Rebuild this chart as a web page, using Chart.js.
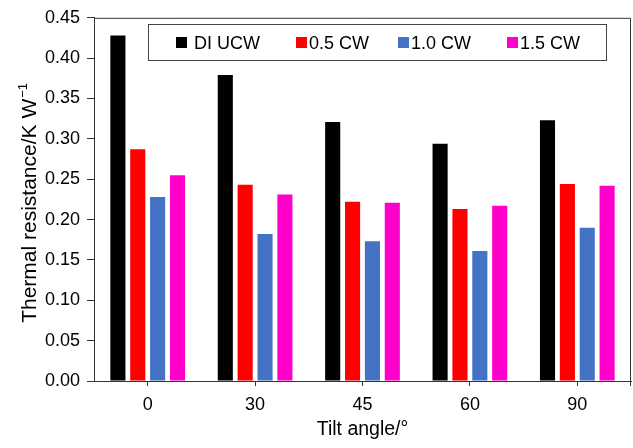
<!DOCTYPE html>
<html>
<head>
<meta charset="utf-8">
<title>Thermal resistance vs tilt angle</title>
<script src="https://cdn.jsdelivr.net/npm/chart.js@4.4.0/dist/chart.umd.min.js"></script>
<style>
  html, body { margin: 0; padding: 0; background: #fff; }
  #wrap { position: relative; width: 633px; height: 448px; }
</style>
</head>
<body>
<div id="wrap"><canvas id="myChart"></canvas></div>
<script>
// tilt angles (deg) and thermal resistance (K/W) per coolant
var angles = ['0', '30', '45', '60', '90'];
var diUcw = [0.428, 0.379, 0.321, 0.294, 0.323];
var cw05 = [0.287, 0.243, 0.222, 0.213, 0.244];
var cw10 = [0.228, 0.182, 0.173, 0.161, 0.190];
var cw15 = [0.255, 0.231, 0.221, 0.217, 0.242];
var seriesNames = ['DI UCW', '0.5 CW', '1.0 CW', '1.5 CW'];
var seriesColors = ['#000000', '#ff0000', '#4472c4', '#ff00cc'];
var yMin = 0, yMax = 0.45, yStep = 0.05;

var FONT = '"Liberation Sans", Arial, Helvetica, sans-serif';
var INK = '#333333';

// box round the plot, legend inside it, y title with superscript
var extras = {
    id: 'extras',
    afterDraw: function (chart) {
        var c = chart.ctx, a = chart.chartArea;
        c.save();
        c.strokeStyle = INK;
        c.lineWidth = 1;
        c.beginPath();
        c.moveTo(a.left, a.top + 0.5);
        c.lineTo(a.right - 0.5, a.top + 0.5);
        c.lineTo(a.right - 0.5, a.bottom);
        c.moveTo(a.right - 0.5, a.bottom);
        c.lineTo(a.right - 0.5, a.bottom + 5);
        c.stroke();

        // legend
        c.strokeStyle = '#444';
        c.strokeRect(148.5, 24.5, 458, 36);
        var sq = [176, 296, 398, 507];
        c.font = '18px ' + FONT;
        c.textBaseline = 'alphabetic';
        c.textAlign = 'left';
        chart.data.datasets.forEach(function (ds, i) {
            c.fillStyle = ds.backgroundColor;
            c.fillRect(sq[i], 37, 11, 11);
            c.fillStyle = '#000';
            c.fillText(ds.label, sq[i] + (i === 0 ? 18 : 13), 49);
        });

        // y axis title
        var main = 'Thermal resistance/K W', sup = '\u22121';
        c.font = '21px ' + FONT;
        var w1 = c.measureText(main).width;
        c.font = '13px ' + FONT;
        var w2 = c.measureText(sup).width;
        c.translate(36, (a.top + a.bottom) / 2 + 4);
        c.rotate(-Math.PI / 2);
        c.fillStyle = '#000';
        var x0 = -(w1 + w2) / 2;
        c.font = '21px ' + FONT;
        c.fillText(main, x0, 0);
        c.font = '13px ' + FONT;
        c.fillText(sup, x0 + w1 + 1, -9);
        c.restore();
    }
};

var ctx = document.getElementById('myChart').getContext('2d');
var chart = new Chart(ctx, {
    type: 'bar',
    data: {
        labels: angles,
        datasets: [diUcw, cw05, cw10, cw15].map(function (d, i) {
            return {
                label: seriesNames[i],
                data: d,
                backgroundColor: seriesColors[i],
                borderWidth: 0,
                categoryPercentage: 0.74,
                barPercentage: 0.76
            };
        })
    },
    options: {
        responsive: true,
        maintainAspectRatio: false,
        animation: false,
        layout: { padding: { left: 0, top: 15, right: 2, bottom: 0 } },
        plugins: {
            legend: { display: false },
            tooltip: { enabled: false }
        },
        scales: {
            x: {
                afterFit: function (s) { s.height = 67; },
                grid: {
                    offset: false,
                    drawOnChartArea: false,
                    drawTicks: true,
                    tickLength: 5,
                    color: INK
                },
                border: { display: true, color: INK, width: 1 },
                ticks: {
                    color: '#000',
                    padding: 8,
                    font: { family: FONT, size: 18 }
                },
                title: {
                    display: true,
                    text: 'Tilt angle/\u00b0',
                    color: '#000',
                    padding: { top: 0, bottom: 7 },
                    font: { family: FONT, size: 19.5 }
                }
            },
            y: {
                min: yMin,
                max: yMax,
                afterFit: function (s) { s.width = 94; },
                grid: {
                    drawOnChartArea: false,
                    drawTicks: true,
                    tickLength: 7,
                    color: INK
                },
                border: { display: true, color: INK, width: 1 },
                ticks: {
                    stepSize: yStep,
                    color: '#000',
                    padding: 7,
                    font: { family: FONT, size: 18 },
                    callback: function (v) { return v.toFixed(2); }
                }
            }
        }
    },
    plugins: [extras]
});
</script>
</body>
</html>
